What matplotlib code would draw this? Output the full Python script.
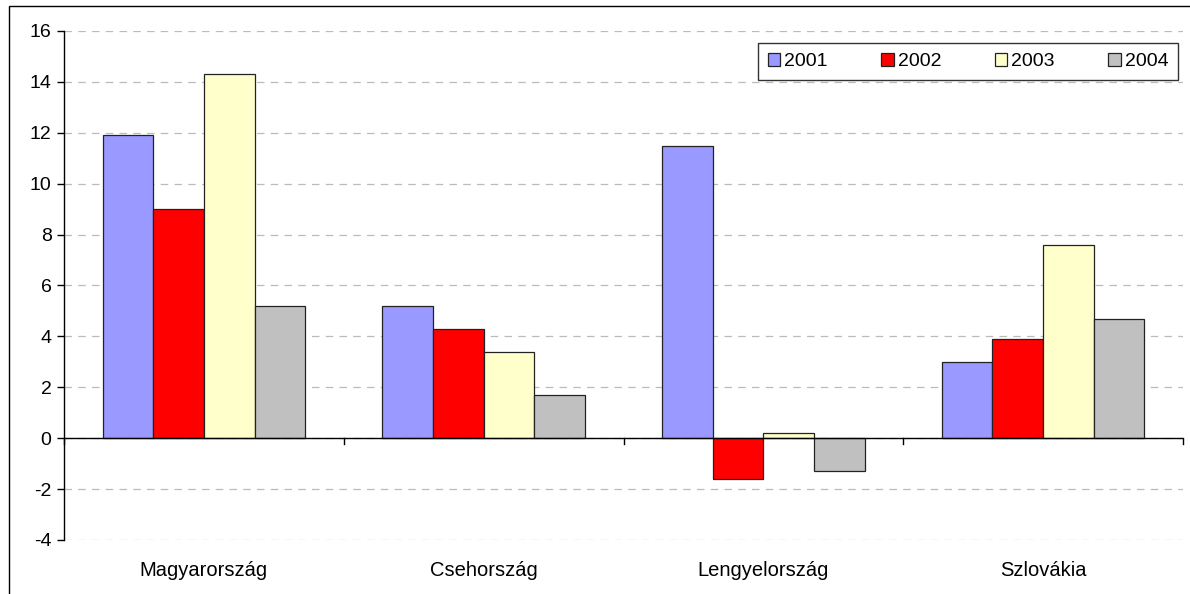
import numpy as np
import matplotlib
matplotlib.use("Agg")
from matplotlib import pyplot as plt
from matplotlib.patches import Rectangle

plt.rcParams['font.family'] = ['Liberation Sans', 'DejaVu Sans']
plt.rcParams['axes.unicode_minus'] = False

countries = ['Magyarország', 'Csehország', 'Lengyelország', 'Szlovákia']
years = ['2001', '2002', '2003', '2004']
v2001 = [11.9, 5.2, 11.5, 3.0]
v2002 = [9.0, 4.3, -1.6, 3.9]
v2003 = [14.3, 3.4, 0.2, 7.6]
v2004 = [5.2, 1.7, -1.3, 4.7]
series = [v2001, v2002, v2003, v2004]
colors = ['#9999FF', '#FF0000', '#FFFFCC', '#C0C0C0']

fig = plt.figure(figsize=(11.9, 5.94), dpi=100)
ax = fig.add_axes([64 / 1190, 1 - 540 / 594, (1183 - 64) / 1190, (540 - 31) / 594])

x = np.arange(len(countries))
width = 0.181
for i, (vals, col, yr) in enumerate(zip(series, colors, years)):
    ax.bar(x + (i - 1.5) * width, vals, width, color=col, edgecolor='#222222',
           linewidth=0.9, label=yr, zorder=3)

ax.set_xlim(-0.5, 3.5)
ax.set_ylim(-4, 16)
ax.set_yticks(np.arange(-4, 17, 2))
ax.yaxis.grid(True, linestyle=(0, (6, 5)), color='#BBBBBB', linewidth=0.9, zorder=0)

for s in ['top', 'right', 'bottom']:
    ax.spines[s].set_visible(False)
ax.spines['left'].set_linewidth(1)
ax.axhline(0, color='black', linewidth=1, zorder=4)
# category boundary ticks on zero line
for b in np.arange(-0.5, 4.0, 1.0):
    ax.plot([b, b], [0, -0.22], color='black', linewidth=1, zorder=4, clip_on=False)

ax.set_xticks(x)
ax.set_xticklabels(countries, fontsize=14.5)
ax.tick_params(axis='x', length=0, pad=15)
ax.tick_params(axis='y', length=5, width=1, labelsize=14, pad=4)

leg = ax.legend(loc='upper right', ncol=4, bbox_to_anchor=(0.9955, 0.976),
                fontsize=14, frameon=True, fancybox=False, edgecolor='black',
                handlelength=0.65, handleheight=0.65, handletextpad=0.2,
                columnspacing=2.75, borderpad=0.5, borderaxespad=0)
leg.get_frame().set_linewidth(1)

fig.patches.append(Rectangle((9 / 1190, -0.1), 1.2, 1 - 6 / 594 + 0.1,
                             transform=fig.transFigure, fill=False,
                             edgecolor='black', linewidth=1))

fig.savefig('out.png', dpi=100)
